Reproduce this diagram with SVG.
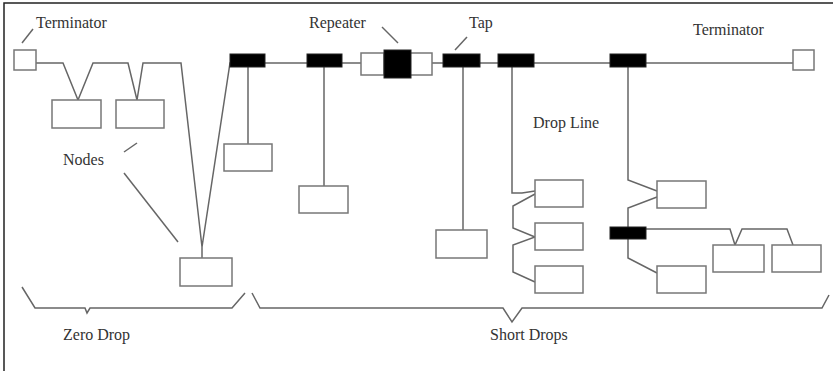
<svg xmlns="http://www.w3.org/2000/svg" width="833" height="371" viewBox="0 0 833 371">
<style>
.ln{fill:none;stroke:#666;stroke-width:1.5;stroke-linejoin:miter}
.box{fill:#fff;stroke:#777;stroke-width:1.5}
.tap{fill:#000;stroke:#222;stroke-width:1}
.lbl{font-family:"Liberation Serif",serif;font-size:16px;fill:#333}
.brd{fill:none;stroke:#222;stroke-width:1.5}
</style>
<rect width="833" height="371" fill="#fff"/>
<path class="brd" d="M833,3 H4 V371"/>
<g id="connectors">
  <path class="ln" d="M36,63 H63 L78,100 L93,63 H128 L137,100 L143,63 H181 L202,247 L230,63 H307"/>
  <path class="ln" d="M202,247 V258"/>
  <path class="ln" d="M342,63 H361 M432,63 H443 M480,63 H498 M534,63 H610 M646,63 H793"/>
  <path class="ln" d="M248,63 V144"/>
  <path class="ln" d="M324,63 V186"/>
  <path class="ln" d="M463,63 V230"/>
  <path class="ln" d="M512,67 V193 H522 L535,191"/>
  <path class="ln" d="M535,194 L513,206 V228 L535,237 L513,245 V272 L535,282"/>
  <path class="ln" d="M628,67 V180 L657,191"/>
  <path class="ln" d="M657,197 L628,208 V258 L657,273"/>
  <path class="ln" d="M646,229 H730 L735,245 L742,229 H787 L793,245"/>
  <path class="ln" d="M22,43 L33,29"/>
  <path class="ln" d="M382,27 L398,43"/>
  <path class="ln" d="M455,50 L467,37"/>
  <path class="ln" d="M124,152 L137,143"/>
  <path class="ln" d="M124,173 L178,242"/>
  <path class="ln" d="M22,287 L35,308 H85 L87,313 L90,308 H232 L245,293"/>
  <path class="ln" d="M252,293 L260,308 H503 L512,322 L522,308 H822 L829,295"/>
</g>
<g id="terminator-left"><rect class="box" x="14" y="50" width="22" height="20"/></g>
<g id="terminator-right"><rect class="box" x="793" y="50" width="21" height="20"/></g>
<g id="node-1"><rect class="box" x="52" y="100" width="49" height="28"/></g>
<g id="node-2"><rect class="box" x="116" y="100" width="48" height="28"/></g>
<g id="node-3"><rect class="box" x="180" y="258" width="52" height="28"/></g>
<g id="tap-1"><rect class="tap" x="230" y="54" width="35" height="13"/></g>
<g id="node-4"><rect class="box" x="224" y="144" width="48" height="27"/></g>
<g id="tap-2"><rect class="tap" x="307" y="54" width="35" height="13"/></g>
<g id="node-5"><rect class="box" x="299" y="186" width="49" height="27"/></g>
<g id="repeater">
  <rect class="box" x="361" y="53" width="23" height="22"/>
  <rect class="box" x="410" y="53" width="22" height="22"/>
  <rect class="tap" x="384" y="50" width="27" height="28"/>
</g>
<g id="tap-3"><rect class="tap" x="443" y="54" width="37" height="13"/></g>
<g id="node-6"><rect class="box" x="436" y="230" width="51" height="28"/></g>
<g id="tap-4"><rect class="tap" x="498" y="54" width="36" height="13"/></g>
<g id="node-7"><rect class="box" x="535" y="180" width="48" height="27"/></g>
<g id="node-8"><rect class="box" x="535" y="223" width="48" height="27"/></g>
<g id="node-9"><rect class="box" x="535" y="266" width="48" height="27"/></g>
<g id="tap-5"><rect class="tap" x="610" y="54" width="36" height="13"/></g>
<g id="node-10"><rect class="box" x="657" y="181" width="49" height="27"/></g>
<g id="tap-6"><rect class="tap" x="610" y="227" width="36" height="12"/></g>
<g id="node-11"><rect class="box" x="657" y="266" width="49" height="27"/></g>
<g id="node-12"><rect class="box" x="713" y="245" width="51" height="27"/></g>
<g id="node-13"><rect class="box" x="772" y="245" width="49" height="27"/></g>
<g id="labels">
  <text class="lbl" x="36" y="28">Terminator</text>
  <text class="lbl" x="309" y="28">Repeater</text>
  <text class="lbl" x="469" y="28">Tap</text>
  <text class="lbl" x="693" y="35">Terminator</text>
  <text class="lbl" x="533" y="128">Drop Line</text>
  <text class="lbl" x="63" y="165">Nodes</text>
  <text class="lbl" x="63" y="340">Zero Drop</text>
  <text class="lbl" x="490" y="340">Short Drops</text>
</g>
</svg>
